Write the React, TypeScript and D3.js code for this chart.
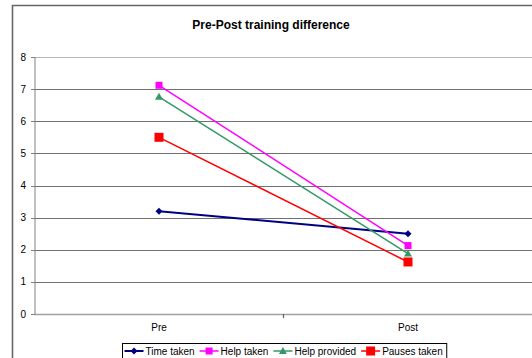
import React, { useEffect, useRef } from "react";
import * as d3 from "d3";

const title = "Pre-Post training difference";
const categories = ["Pre", "Post"];
const seriesNames = ["Time taken", "Help taken", "Help provided", "Pauses taken"];
const timeTaken = [3.2, 2.5];
const helpTaken = [7.12, 2.13];
const helpProvided = [6.76, 1.88];
const pausesTaken = [5.5, 1.62];
const yTicks = [0, 1, 2, 3, 4, 5, 6, 7, 8];

const seriesValues = [timeTaken, helpTaken, helpProvided, pausesTaken];
const colors = ["#000080", "#FF00FF", "#339966", "#FF0000"];
const markers = ["diamond", "square", "triangle", "bigsquare"];

export default function App() {
  const ref = useRef<SVGSVGElement>(null);

  useEffect(() => {
    const svg = d3.select(ref.current);
    svg.selectAll("*").remove();
    const W = 532, H = 358;
    const plotL = 34.5, plotR = 532.5, plotT = 57, plotB = 314;
    const font = "Liberation Sans, Arial, sans-serif";

    svg.append("rect").attr("width", W).attr("height", H).attr("fill", "#fff");

    // outer chart border (left & top visible)
    svg.append("path")
      .attr("d", `M12.5,${H + 2} V5.5 H${W + 2}`)
      .attr("fill", "none").attr("stroke", "#666").attr("stroke-width", 1.6);

    const x = d3.scaleBand().domain(categories).range([plotL, plotR]);
    const y = d3.scaleLinear().domain([0, 8]).range([plotB, plotT]);

    // gridlines
    svg.append("g").selectAll("line").data(yTicks).join("line")
      .attr("x1", plotL).attr("x2", plotR + 2)
      .attr("y1", d => Math.round(y(d)) + 0.5).attr("y2", d => Math.round(y(d)) + 0.5)
      .attr("stroke", d => (d === 0 ? "#a0a0a0" : d === 8 ? "#b8b8b8" : "#707070"))
      .attr("stroke-width", d => (d === 0 ? 1.6 : 1.2));

    // y axis
    svg.append("line").attr("x1", 35).attr("x2", 35).attr("y1", plotT).attr("y2", plotB)
      .attr("stroke", "#808080").attr("stroke-width", 1);
    svg.append("g").selectAll("line").data(yTicks).join("line")
      .attr("x1", 31).attr("x2", 35)
      .attr("y1", d => Math.round(y(d)) + 0.5).attr("y2", d => Math.round(y(d)) + 0.5)
      .attr("stroke", "#808080");
    svg.append("g").selectAll("text").data(yTicks).join("text")
      .attr("x", 26).attr("y", d => y(d) + 3.5)
      .attr("text-anchor", "end").attr("font-family", font).attr("font-size", 10)
      .attr("fill", "#000").text(d => d);

    // x category tick between categories
    svg.append("line").attr("x1", x("Post")!).attr("x2", x("Post")!)
      .attr("y1", plotB).attr("y2", plotB + 4).attr("stroke", "#606060").attr("stroke-width", 1.2);
    svg.append("g").selectAll("text").data(categories).join("text")
      .attr("x", d => x(d)! + x.bandwidth() / 2).attr("y", 331)
      .attr("text-anchor", "middle").attr("font-family", font).attr("font-size", 10)
      .text(d => d);

    // title
    svg.append("text").attr("x", 271).attr("y", 29).attr("text-anchor", "middle")
      .attr("font-family", font).attr("font-size", 12).attr("font-weight", "bold").text(title);

    const drawMarker = (g: any, kind: string, cx: number, cy: number, color: string) => {
      if (kind === "diamond") {
        g.append("path").attr("d", `M${cx},${cy - 3.5} L${cx + 3.5},${cy} L${cx},${cy + 3.5} L${cx - 3.5},${cy} Z`).attr("fill", color);
      } else if (kind === "square") {
        g.append("rect").attr("x", cx - 3.5).attr("y", cy - 3.5).attr("width", 7).attr("height", 7).attr("fill", color);
      } else if (kind === "triangle") {
        g.append("path").attr("d", `M${cx},${cy - 4} L${cx + 4},${cy + 3} L${cx - 4},${cy + 3} Z`).attr("fill", color);
      } else {
        g.append("rect").attr("x", cx - 4.5).attr("y", cy - 4.5).attr("width", 9).attr("height", 9).attr("fill", color);
      }
    };

    const line = d3.line<number>()
      .x((_, i) => x(categories[i])! + x.bandwidth() / 2)
      .y(d => y(d));

    seriesValues.forEach((vals, si) => {
      const g = svg.append("g");
      g.append("path").attr("d", line(vals)!).attr("fill", "none")
        .attr("stroke", colors[si]).attr("stroke-width", si === 0 ? 2 : 1.5);
      vals.forEach((v, i) => {
        drawMarker(g, markers[si], x(categories[i])! + x.bandwidth() / 2, y(v), colors[si]);
      });
    });

    // legend
    const lg = svg.append("g");
    const boxX = 122.5, boxY = 343.5;
    const box = lg.append("rect").attr("x", boxX).attr("y", boxY).attr("height", 20)
      .attr("fill", "#fff").attr("stroke", "#000").attr("stroke-width", 1);
    let cx = boxX + 2;
    const ly = 351;
    seriesNames.forEach((name, si) => {
      lg.append("line").attr("x1", cx).attr("x2", cx + 19).attr("y1", ly).attr("y2", ly)
        .attr("stroke", colors[si]).attr("stroke-width", si === 0 ? 2 : 1.5);
      drawMarker(lg, markers[si], cx + 9.5, ly, colors[si]);
      const t = lg.append("text").attr("x", cx + 21).attr("y", ly + 3.5)
        .attr("font-family", font).attr("font-size", 10).text(name);
      const w = (t.node() as SVGTextElement).getComputedTextLength();
      cx = cx + 21 + w + 5;
    });
    box.attr("width", cx - boxX - 1);
  }, []);

  return (
    <svg ref={ref} width={532} height={358} style={{ position: "absolute", left: 0, top: 0 }} />
  );
}
